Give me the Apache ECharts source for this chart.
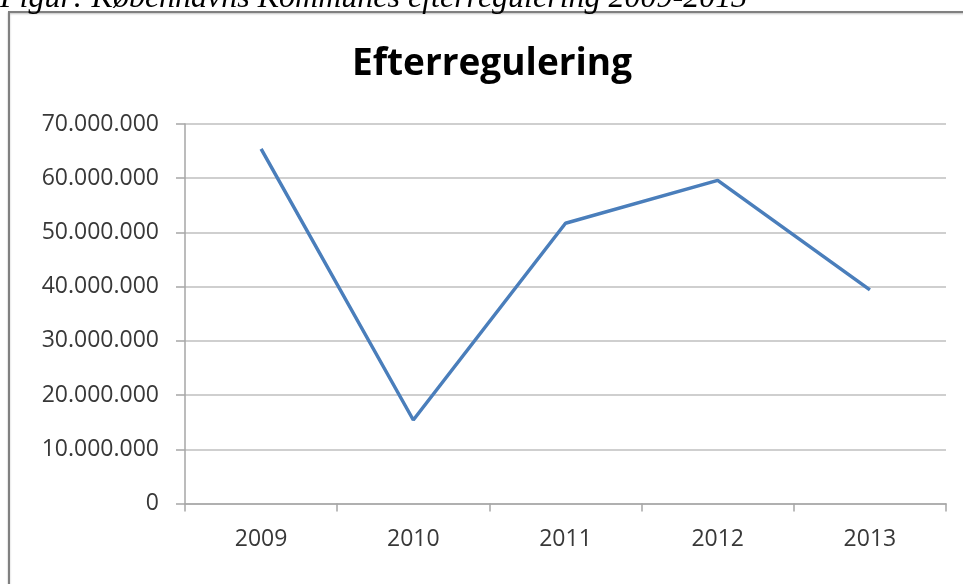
<!DOCTYPE html>
<html>
<head>
<meta charset="utf-8">
<script src="https://cdn.jsdelivr.net/npm/echarts@6/dist/echarts.min.js"></script>
<style>
html,body{margin:0;padding:0;background:#fff;}
#main{width:963px;height:584px;}
</style>
</head>
<body>
<div id="main"></div>
<script>
const categories = ['2009', '2010', '2011', '2012', '2013'];
const efterregulering = [65400000, 15400000, 51700000, 59600000, 39400000];
const yTicks = { min: 0, max: 70000000, interval: 10000000 };
const chartTitle = 'Efterregulering';
const caption = 'Figur: Københavns Kommunes efterregulering 2009-2013';

function fmt(v) {
  return String(v).replace(/\B(?=(\d{3})+(?!\d))/g, '.');
}

const chart = echarts.init(document.getElementById('main'), null, { renderer: 'canvas' });
chart.setOption({
  animation: false,
  backgroundColor: '#ffffff',
  graphic: [
    {
      type: 'rect', z: -1,
      shape: { x: 9, y: 12, width: 1000, height: 700 },
      style: { fill: '#ffffff', stroke: '#808080', lineWidth: 2, shadowColor: 'rgba(0,0,0,0.25)', shadowBlur: 2, shadowOffsetY: 1 }
    },
    {
      type: 'text',
      x: 0, y: 15,
      style: {
        text: caption,
        font: 'italic 32px "Liberation Serif"',
        fill: '#000000',
        verticalAlign: 'bottom',
        align: 'left'
      }
    },
    {
      type: 'text',
      x: 492, y: 46,
      style: {
        text: chartTitle,
        font: 'bold 37px "Open Sans"',
        fill: '#000000',
        align: 'center',
        verticalAlign: 'top'
      }
    }
  ],
  grid: { left: 185, right: 17, top: 124, bottom: 80.5, containLabel: false },
  xAxis: {
    type: 'category',
    data: categories,
    boundaryGap: true,
    axisLine: { show: true, lineStyle: { color: '#a6a6a6', width: 1.5 } },
    axisTick: { show: true, alignWithLabel: false, length: 8, lineStyle: { color: '#a6a6a6', width: 1.5 } },
    axisLabel: { color: '#383838', fontFamily: 'Open Sans', fontSize: 23, margin: 24 },
    splitLine: { show: false }
  },
  yAxis: {
    type: 'value',
    min: yTicks.min, max: yTicks.max, interval: yTicks.interval,
    axisLine: { show: true, lineStyle: { color: '#a6a6a6', width: 1.5 } },
    axisTick: { show: true, length: 9, lineStyle: { color: '#a6a6a6', width: 1.5 } },
    axisLabel: { color: '#383838', fontFamily: 'Open Sans', fontSize: 23, margin: 26, formatter: fmt },
    splitLine: { show: true, lineStyle: { color: '#cfcfcf', width: 2 } }
  },
  series: [{
    type: 'line',
    data: efterregulering,
    showSymbol: false,
    symbol: 'none',
    lineStyle: { color: '#4a7ebb', width: 3.5 },
    itemStyle: { color: '#4a7ebb' }
  }]
});
</script>
</body>
</html>
